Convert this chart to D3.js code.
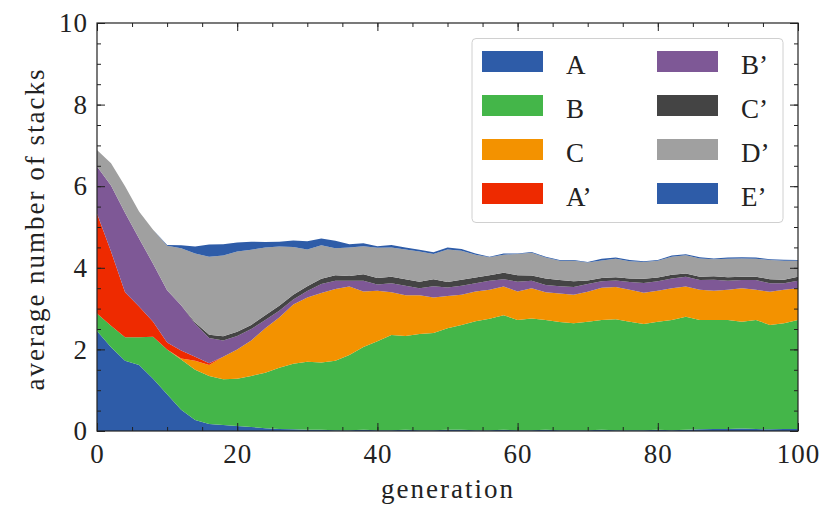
<!DOCTYPE html>
<html>
<head>
<meta charset="utf-8">
<script src="https://cdn.jsdelivr.net/npm/d3@7"></script>
<style>
    body { margin: 0; background: #fff; }
    svg { display: block; }
    text { font-family: "Liberation Serif", "DejaVu Serif", serif; fill: #222; }
</style>
</head>
<body>
<svg id="chart" width="820" height="507"></svg>
<script>
// generations sampled every 2 steps
var generation = [0, 2, 4, 6, 8, 10, 12, 14, 16, 18, 20, 22, 24, 26, 28, 30, 32, 34, 36, 38, 40,
    42, 44, 46, 48, 50, 52, 54, 56, 58, 60, 62, 64, 66, 68, 70, 72, 74, 76, 78, 80,
    82, 84, 86, 88, 90, 92, 94, 96, 98, 100];

var seriesA = [2.45, 2.05, 1.72, 1.62, 1.28, 0.90, 0.52, 0.27, 0.17, 0.15, 0.12, 0.10, 0.07, 0.05, 0.04, 0.03, 0.03,
    0.02, 0.02, 0.03, 0.02, 0.02, 0.03, 0.02, 0.02, 0.03, 0.03, 0.02, 0.02, 0.03, 0.02, 0.02, 0.03, 0.02,
    0.02, 0.02, 0.03, 0.02, 0.02, 0.02, 0.03, 0.02, 0.03, 0.04, 0.05, 0.05, 0.06, 0.05, 0.04, 0.05, 0.05];
var seriesB = [0.43, 0.53, 0.58, 0.68, 1.03, 1.10, 1.23, 1.23, 1.18, 1.12, 1.16, 1.25, 1.36, 1.50, 1.61, 1.67, 1.65,
    1.70, 1.84, 2.03, 2.18, 2.33, 2.30, 2.36, 2.38, 2.49, 2.57, 2.67, 2.73, 2.81, 2.70, 2.74, 2.69, 2.65,
    2.62, 2.66, 2.69, 2.72, 2.66, 2.60, 2.65, 2.70, 2.77, 2.68, 2.67, 2.67, 2.62, 2.67, 2.56, 2.59, 2.67];
var seriesC = [0, 0, 0, 0, 0, 0, 0.03, 0.22, 0.27, 0.55, 0.72, 0.87, 1.09, 1.23, 1.45, 1.57, 1.70,
    1.76, 1.68, 1.36, 1.24, 1.05, 1.00, 0.95, 0.87, 0.79, 0.74, 0.73, 0.71, 0.70, 0.70, 0.74, 0.68, 0.70,
    0.70, 0.73, 0.79, 0.79, 0.78, 0.77, 0.76, 0.78, 0.74, 0.74, 0.72, 0.74, 0.82, 0.74, 0.81, 0.82, 0.78];
var seriesA2 = [2.45, 1.82, 1.10, 0.75, 0.37, 0.17, 0.19, 0.10, 0.04, 0, 0, 0, 0, 0, 0, 0, 0,
    0, 0, 0, 0, 0, 0, 0, 0, 0, 0, 0, 0, 0, 0, 0, 0, 0,
    0, 0, 0, 0, 0, 0, 0, 0, 0, 0, 0, 0, 0, 0, 0, 0, 0];
var seriesB2 = [1.15, 1.62, 1.95, 1.67, 1.42, 1.28, 1.11, 0.81, 0.62, 0.40, 0.33, 0.28, 0.20, 0.17, 0.12, 0.16, 0.22,
    0.20, 0.14, 0.26, 0.15, 0.22, 0.23, 0.17, 0.28, 0.21, 0.22, 0.20, 0.22, 0.18, 0.24, 0.18, 0.18, 0.18,
    0.19, 0.19, 0.16, 0.16, 0.19, 0.24, 0.23, 0.24, 0.24, 0.24, 0.27, 0.22, 0.20, 0.24, 0.21, 0.16, 0.18];
var seriesC2 = [0, 0, 0, 0, 0, 0, 0, 0.03, 0.08, 0.10, 0.10, 0.10, 0.12, 0.12, 0.12, 0.12, 0.13,
    0.14, 0.12, 0.16, 0.16, 0.16, 0.16, 0.16, 0.17, 0.13, 0.15, 0.14, 0.14, 0.16, 0.16, 0.13, 0.16, 0.15,
    0.14, 0.09, 0.08, 0.08, 0.09, 0.10, 0.09, 0.09, 0.08, 0.08, 0.08, 0.09, 0.08, 0.08, 0.10, 0.09, 0.10];
var seriesD2 = [0.41, 0.54, 0.65, 0.66, 0.83, 1.09, 1.40, 1.69, 1.91, 1.98, 1.97, 1.84, 1.66, 1.45, 1.17, 0.90, 0.82,
    0.66, 0.70, 0.69, 0.74, 0.72, 0.73, 0.74, 0.62, 0.80, 0.71, 0.56, 0.44, 0.44, 0.52, 0.56, 0.51, 0.47,
    0.50, 0.44, 0.43, 0.45, 0.42, 0.41, 0.41, 0.44, 0.45, 0.45, 0.42, 0.45, 0.45, 0.44, 0.47, 0.46, 0.39];
var seriesE2 = [0, 0, 0, 0, 0, 0.02, 0.07, 0.17, 0.30, 0.28, 0.22, 0.20, 0.13, 0.12, 0.16, 0.20, 0.17,
    0.18, 0.08, 0.07, 0.04, 0.06, 0.05, 0.04, 0.04, 0.05, 0.04, 0.03, 0.01, 0.03, 0.01, 0.02, 0.02, 0.02,
    0.02, 0.01, 0.04, 0.03, 0.03, 0.02, 0.02, 0.03, 0.02, 0.03, 0.02, 0.03, 0.03, 0.03, 0.02, 0.03, 0.02];

var labels = ["A", "B", "C", "A\u2019", "B\u2019", "C\u2019", "D\u2019", "E\u2019"];
var colors = ["#2e5ca8", "#44b649", "#f39200", "#ee2a00", "#7e5896", "#444444", "#a0a0a0", "#2e5ca8"];
var xTicks = [0, 20, 40, 60, 80, 100];
var yTicks = [0, 2, 4, 6, 8, 10];

var allSeries = [seriesA, seriesB, seriesC, seriesA2, seriesB2, seriesC2, seriesD2, seriesE2];

// table for d3.stack
var rows = generation.map(function(g, i) {
    var row = { gen: g };
    labels.forEach(function(k, j) { row[k] = allSeries[j][i]; });
    return row;
});

var svg = d3.select("#chart");
// note: "top" is taken by window.top, so plot edges get their own names
var plotLeft = 97, plotRight = 798, plotTop = 23, plotBottom = 431;

var x = d3.scaleLinear().domain([0, 100]).range([plotLeft, plotRight]);
var y = d3.scaleLinear().domain([0, 10]).range([plotBottom, plotTop]);

var stacked = d3.stack().keys(labels)(rows);

var area = d3.area()
    .x(function(d) { return x(d.data.gen); })
    .y0(function(d) { return y(d[0]); })
    .y1(function(d) { return y(d[1]); });

svg.append("g")
    .selectAll("path")
    .data(stacked)
    .enter()
    .append("path")
    .attr("d", area)
    .attr("fill", function(d, i) { return colors[i]; });

// minor ticks every 5 on x, every 0.5 on y
var xMinor = d3.range(0, 101, 5);
var yMinor = d3.range(0, 10.01, 0.5);

function styleAxis(g) {
    g.select(".domain").remove();
    g.selectAll("line").attr("stroke", "#222").attr("stroke-width", 1);
    g.selectAll("text").style("font-size", "27px").style("letter-spacing", "1px").attr("fill", "#222");
}

svg.append("g").attr("transform", "translate(0," + plotBottom + ")")
    .call(d3.axisBottom(x).tickValues(xMinor).tickSize(-4).tickFormat(""))
    .call(styleAxis);
svg.append("g").attr("transform", "translate(0," + plotBottom + ")")
    .call(d3.axisBottom(x).tickValues(xTicks).tickSize(-8).tickPadding(13).tickFormat(d3.format("d")))
    .call(styleAxis);
svg.append("g").attr("transform", "translate(0," + plotTop + ")")
    .call(d3.axisTop(x).tickValues(xMinor).tickSize(-4).tickFormat(""))
    .call(styleAxis);
svg.append("g").attr("transform", "translate(0," + plotTop + ")")
    .call(d3.axisTop(x).tickValues(xTicks).tickSize(-8).tickFormat(""))
    .call(styleAxis);

svg.append("g").attr("transform", "translate(" + plotLeft + ",0)")
    .call(d3.axisLeft(y).tickValues(yMinor).tickSize(-4).tickFormat(""))
    .call(styleAxis);
svg.append("g").attr("transform", "translate(" + plotLeft + ",0)")
    .call(d3.axisLeft(y).tickValues(yTicks).tickSize(-8).tickPadding(9).tickFormat(d3.format("d")))
    .call(styleAxis);
svg.append("g").attr("transform", "translate(" + plotRight + ",0)")
    .call(d3.axisRight(y).tickValues(yMinor).tickSize(-4).tickFormat(""))
    .call(styleAxis);
svg.append("g").attr("transform", "translate(" + plotRight + ",0)")
    .call(d3.axisRight(y).tickValues(yTicks).tickSize(-8).tickFormat(""))
    .call(styleAxis);

// frame
svg.append("rect")
    .attr("x", plotLeft).attr("y", plotTop)
    .attr("width", plotRight - plotLeft).attr("height", plotBottom - plotTop)
    .attr("fill", "none").attr("stroke", "#222").attr("stroke-width", 1.2);

// axis titles
svg.append("text")
    .attr("x", 448).attr("y", 498)
    .attr("text-anchor", "middle")
    .style("font-size", "27px")
    .style("letter-spacing", "2px")
    .text("generation");

svg.append("text")
    .attr("transform", "translate(44,229) rotate(-90)")
    .attr("text-anchor", "middle")
    .style("font-size", "27px")
    .style("letter-spacing", "2px")
    .text("average number of stacks");

// legend
var legend = svg.append("g");
legend.append("rect")
    .attr("x", 472).attr("y", 38.5)
    .attr("width", 311).attr("height", 184)
    .attr("rx", 4)
    .attr("fill", "#fff").attr("fill-opacity", 0.8)
    .attr("stroke", "#d0d0d0").attr("stroke-width", 1);

var item = legend.selectAll("g.item")
    .data(labels)
    .enter()
    .append("g")
    .attr("class", "item")
    .attr("transform", function(d, i) {
        var col = Math.floor(i / 4), row = i % 4;
        return "translate(" + (482 + col * 175) + "," + (51 + row * 44) + ")";
    });

item.append("rect")
    .attr("width", 61).attr("height", 21)
    .attr("fill", function(d, i) { return colors[i]; });

item.append("text")
    .attr("x", 84).attr("y", 23)
    .style("font-size", "27px")
    .text(function(d) { return d; });
</script>
</body>
</html>
